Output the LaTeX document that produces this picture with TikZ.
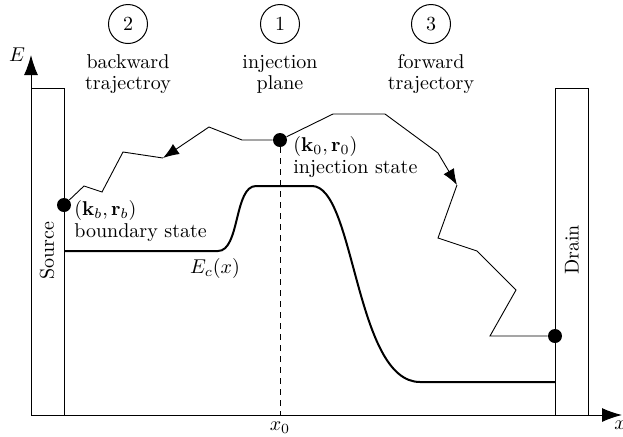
\documentclass[tikz,border=0pt]{standalone}
\usetikzlibrary{arrows.meta}
\begin{document}
\begin{tikzpicture}[x=0.5pt,y=-0.5pt,
  dot/.style={circle,fill=black,inner sep=0pt,minimum size=7pt},
  traj/.style={line width=0.45pt},
  trajarrow/.style={-{Latex[length=8pt,width=6pt]}},
  axisline/.style={line width=0.5pt,-{Latex[length=10pt,width=7pt]}},
  boxline/.style={line width=0.5pt},
  band/.style={line width=1pt},
  numcirc/.style={circle,draw,line width=0.5pt,minimum size=19.5pt,inner sep=0pt},
  lbl/.style={inner sep=0pt,anchor=base},
  lblw/.style={inner sep=0pt,anchor=base west}]
\useasboundingbox (0,0) rectangle (623,436);
% axes
\coordinate (O) at (31,415);
\coordinate (Etop) at (31,55);
\coordinate (Xend) at (622,415);
\draw[axisline] (O) -- (Etop);
\draw[axisline] (O) -- (Xend);
\node[lbl] (Elbl) at (17,61) {$E$};
\node[lbl] (xlbl) at (620,429) {$x$};
% contacts
\draw[boxline] (31,88) rectangle (64,415);
\draw[boxline] (555,88) rectangle (588,415);
\node[rotate=90,inner sep=0pt] (src) at (47,251) {Source};
\node[rotate=90,inner sep=0pt] (drnlbl) at (572,250) {Drain};
% band edge
\draw[band] (64,251) -- (218,251) .. controls (240,251) and (234,186) .. (256,186)
  -- (312,186) .. controls (355,186) and (355,382) .. (420,382) -- (555,382);
\node[lbl] (Ec) at (215,273) {$E_c(x)$};
% injection plane
\node[dot] (inj) at (280,140) {};
\coordinate (x0b) at (280,415);
\draw[line width=0.5pt,dash pattern=on 3pt off 2.5pt] (inj) -- (x0b);
\node[lbl] (x0) at (280,430) {$x_0$};
% states
\node[dot] (bnd) at (64,205) {};
\node[dot] (drn) at (555,336) {};
% backward trajectory
\coordinate (b1) at (242,140);
\coordinate (b2) at (209,127);
\coordinate (b3) at (163,158);
\coordinate (b4) at (123,152);
\coordinate (b5) at (102,192);
\coordinate (b6) at (84,186);
\draw[traj,trajarrow] (inj) -- (b1) -- (b2) -- (b3);
\draw[traj] (b3) -- (b4) -- (b5) -- (b6) -- (bnd);
% forward trajectory
\coordinate (f1) at (333,114);
\coordinate (f2) at (385,114);
\coordinate (f3) at (438,153);
\coordinate (f4) at (457,185);
\coordinate (f5) at (438,238);
\coordinate (f6) at (477,251);
\coordinate (f7) at (516,290);
\coordinate (f8) at (490,336);
\draw[traj,trajarrow] (inj) -- (f1) -- (f2) -- (f3) -- (f4);
\draw[traj] (f4) -- (f5) -- (f6) -- (f7) -- (f8) -- (drn);
% state labels
\node[lblw] (k0) at (293,151) {$(\mathbf{k}_0,\mathbf{r}_0)$};
\node[lblw] (injst) at (293,173) {injection state};
\node[lblw] (kb) at (74,215) {$(\mathbf{k}_b,\mathbf{r}_b)$};
\node[lblw] (bst) at (74,237) {boundary state};
% headings
\node[numcirc] (n2) at (128,24) {2};
\node[numcirc] (n1) at (280,24) {1};
\node[numcirc] (n3) at (431,24) {3};
\node[lbl] (h2a) at (128,68) {backward};
\node[lbl] (h2b) at (128,89) {trajectroy};
\node[lbl] (h1a) at (280,68) {injection};
\node[lbl] (h1b) at (280,89) {plane};
\node[lbl] (h3a) at (431,68) {forward};
\node[lbl] (h3b) at (431,89) {trajectory};
\end{tikzpicture}
\end{document}
